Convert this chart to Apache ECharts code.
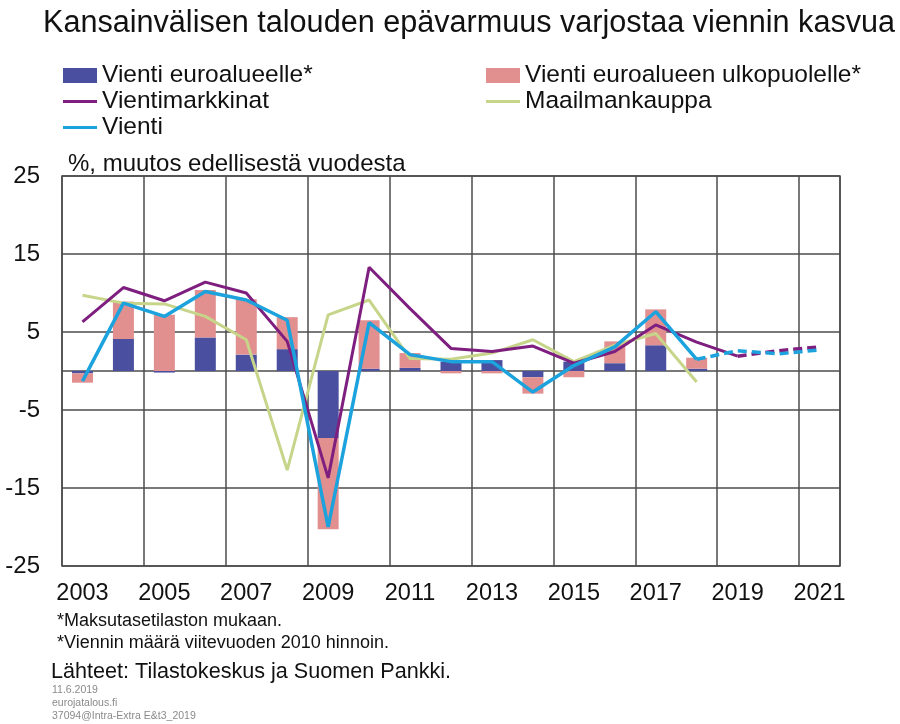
<!DOCTYPE html>
<html>
<head>
<meta charset="utf-8">
<script src="https://cdn.jsdelivr.net/npm/echarts@6/dist/echarts.min.js"></script>
<style>
  html, body { margin: 0; padding: 0; background: #fff; }
  #chart { width: 900px; height: 724px; }
</style>
</head>
<body>
<div id="chart"></div>
<script>
var years = ['2003','2004','2005','2006','2007','2008','2009','2010','2011','2012',
             '2013','2014','2015','2016','2017','2018','2019','2020','2021'];

// pylväät, %-muutos
var euroalueelle = [-0.3, 4.1, -0.2, 4.3, 2.1, 2.8, -8.6, 0.3, 0.4, 1.2, 1.4, -0.8, 1.2, 1.0, 3.3, 0.3, null, null, null];
var ulkopuolelle = [-1.2, 4.8, 7.2, 6.1, 7.1, 4.1, -11.7, 6.2, 1.9, -0.3, -0.3, -2.1, -0.8, 2.8, 4.6, 1.4, null, null, null];

// viivat
var vientimarkkinat = [6.3, 10.7, 9.0, 11.4, 10.0, 3.8, -13.7, 13.3, 8.0, 2.9, 2.5, 3.2, 1.0, 2.5, 5.9, 3.7, 1.9, null, null];
var vientimarkkinatEnnuste = [null, null, null, null, null, null, null, null, null, null, null, null, null, null, null, null, 1.9, 2.6, 3.1];
var maailmankauppa = [9.7, 8.7, 8.6, 7.0, 4.0, -12.7, 7.2, 9.1, 1.6, 1.5, 2.3, 4.0, 1.2, 3.3, 4.8, -1.4, null, null, null];
var vienti = [-1.3, 8.7, 7.0, 10.2, 9.1, 6.5, -20.0, 6.2, 2.1, 1.2, 1.2, -2.7, 0.7, 3.1, 7.6, 1.5, null, null, null];
var vientiEnnuste = [null, null, null, null, null, null, null, null, null, null, null, null, null, null, null, 1.5, 2.6, 2.2, 2.7];

var yLabels = [-25, -15, -5, 5, 15, 25];
var yLines = [-25, -15, -5, 0, 5, 15, 25];

var FONT = '"Liberation Sans", Arial, sans-serif';
var cBlue = '#4b4f9f', cPink = '#e28f90', cPurple = '#7e1f80', cGreen = '#c6d58a', cCyan = '#1ca2dc';
var gridColor = '#4d4d4d';
var lineIcon = 'path://M0,0H34V3H0Z';

var chart = echarts.init(document.getElementById('chart'));

var legendText = { fontSize: 24.5, color: '#111', fontFamily: FONT };

var option = {
    animation: false,
    backgroundColor: '#fff',
    textStyle: { fontFamily: FONT },
    title: {
        text: 'Kansainvälisen talouden epävarmuus varjostaa viennin kasvua',
        left: 38, top: 3,
        textStyle: { fontSize: 30.6, fontWeight: 'normal', color: '#111', fontFamily: FONT }
    },
    legend: [{
        orient: 'vertical', left: 63, top: 63, padding: 0,
        itemWidth: 34, itemHeight: 15, itemGap: 1,
        textStyle: legendText,
        data: [{ name: 'Vienti euroalueelle*', icon: 'rect' },
               { name: 'Vientimarkkinat', icon: lineIcon },
               { name: 'Vienti', icon: lineIcon }]
    }, {
        orient: 'vertical', left: 486, top: 63, padding: 0,
        itemWidth: 34, itemHeight: 15, itemGap: 1,
        textStyle: legendText,
        data: [{ name: 'Vienti euroalueen ulkopuolelle*', icon: 'rect' },
               { name: 'Maailmankauppa', icon: lineIcon }]
    }],
    grid: {
        left: 62, right: 60, top: 176, bottom: 158,
        show: true, borderColor: gridColor, borderWidth: 1.5
    },
    xAxis: {
        type: 'category',
        data: years,
        boundaryGap: true,
        axisLine: { show: false },
        axisTick: { show: false },
        axisLabel: { interval: 1, fontSize: 23.5, color: '#111', margin: 16, fontFamily: FONT },
        splitLine: { show: true, interval: 1, lineStyle: { color: gridColor, width: 1.5 } }
    },
    yAxis: {
        type: 'value',
        min: -25, max: 25,
        axisLine: { show: false },
        axisTick: { show: false, customValues: yLines },
        axisLabel: { customValues: yLabels, fontSize: 24, color: '#111', margin: 22, fontFamily: FONT },
        splitLine: { show: true, lineStyle: { color: gridColor, width: 1.5 } }
    },
    graphic: [
        { type: 'text', left: 68, top: 152, style: { text: '%, muutos edellisestä vuodesta', font: '24px ' + FONT, fill: '#111' } },
        { type: 'text', left: 57, top: 612, style: { text: '*Maksutasetilaston mukaan.', font: '18px ' + FONT, fill: '#111' } },
        { type: 'text', left: 57, top: 634, style: { text: '*Viennin määrä viitevuoden 2010 hinnoin.', font: '18px ' + FONT, fill: '#111' } },
        { type: 'text', left: 51, top: 661, style: { text: 'Lähteet: Tilastokeskus ja Suomen Pankki.', font: '21.6px ' + FONT, fill: '#111' } },
        { type: 'text', left: 52, top: 685, style: { text: '11.6.2019', font: '10.5px ' + FONT, fill: '#8a8a8a' } },
        { type: 'text', left: 52, top: 698, style: { text: 'eurojatalous.fi', font: '10.5px ' + FONT, fill: '#8a8a8a' } },
        { type: 'text', left: 52, top: 711, style: { text: '37094@Intra-Extra E&t3_2019', font: '10.5px ' + FONT, fill: '#8a8a8a' } }
    ],
    series: [{
        name: 'Vienti euroalueelle*', type: 'bar', stack: 'vienti',
        barWidth: 21, data: euroalueelle,
        itemStyle: { color: cBlue }
    }, {
        name: 'Vienti euroalueen ulkopuolelle*', type: 'bar', stack: 'vienti',
        barWidth: 21, data: ulkopuolelle,
        itemStyle: { color: cPink }
    }, {
        name: 'Maailmankauppa', type: 'line', data: maailmankauppa,
        symbol: 'none', lineStyle: { color: cGreen, width: 3 }, itemStyle: { color: cGreen }
    }, {
        name: 'Vientimarkkinat', type: 'line', data: vientimarkkinat,
        symbol: 'none', lineStyle: { color: cPurple, width: 3 }, itemStyle: { color: cPurple }
    }, {
        name: 'Vientimarkkinat ennuste', type: 'line', data: vientimarkkinatEnnuste,
        symbol: 'none', lineStyle: { color: cPurple, width: 3.5, type: [9, 5] }
    }, {
        name: 'Vienti', type: 'line', data: vienti,
        symbol: 'none', lineStyle: { color: cCyan, width: 3.5 }, itemStyle: { color: cCyan }
    }, {
        name: 'Vienti ennuste', type: 'line', data: vientiEnnuste,
        symbol: 'none', lineStyle: { color: cCyan, width: 3.5, type: [9, 5] }
    }]
};
chart.setOption(option);
</script>
</body>
</html>
